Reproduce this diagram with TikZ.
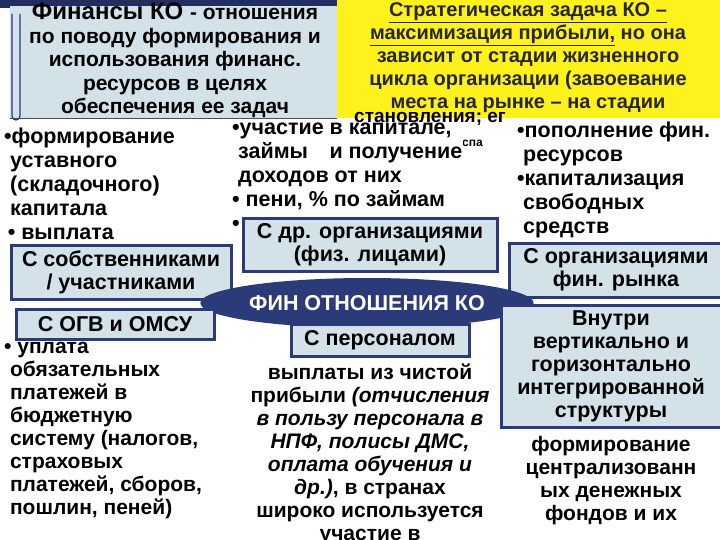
\documentclass[tikz,border=0pt]{standalone}
\usepackage{fontspec}
\usetikzlibrary{shapes.geometric}
\setmainfont{Liberation Sans}
\definecolor{bx}{HTML}{D3E2E9}
\definecolor{nv}{HTML}{2B3A78}
\definecolor{yl}{HTML}{FFF21C}
\begin{document}
\begin{tikzpicture}[x=1pt,y=-1pt,
  box/.style={draw=nv,line width=3pt,fill=bx,inner sep=0pt,align=center,font=\fontsize{21.5}{23}\selectfont\bfseries},
  txt/.style={inner sep=0pt,align=left,font=\fontsize{21.5}{24}\selectfont\bfseries,anchor=north west},
  ctxt/.style={inner sep=0pt,align=center,font=\fontsize{21.5}{24}\selectfont\bfseries,anchor=north}]
\useasboundingbox (0,0) rectangle (720,540);
\fill[white] (0,0) rectangle (720,540);
% top band
\fill[nv!80!black] (0,0) rectangle (337,8);
% scroll box
\node[draw=none,fill=bx,minimum width=327pt,minimum height=112pt,inner sep=0pt,anchor=north west] (def) at (10,6) {};
\draw[nv,line width=1.2pt] (12,14) -- (12,116) arc (180:360:4pt) -- (20,14);
\draw[gray!60!black,line width=1.2pt] (def.south west) -- (def.south east);
\node[ctxt,font=\fontsize{21}{23.5}\selectfont\bfseries] (deft) at (175,3) {\fontsize{24}{24}\selectfont Финансы КО \fontsize{21}{23.5}\selectfont- отношения\\ по поводу формирования и\\ использования финанс.\\ ресурсов в целях\\ обеспечения ее задач};
% yellow box
\fill[yl] (337,0) rectangle (720,118);
\node[txt,font=\fontsize{19}{20}\selectfont\bfseries] (hid) at (354,112) {становления; ег};
\node[txt,font=\fontsize{12}{12}\selectfont\bfseries] (hid2) at (462,140) {спа};
\node[ctxt,font=\fontsize{20}{23}\selectfont\bfseries,text=black!85] (strat) at (528,2) {\underline{Стратегическая задача КО –}\\ \underline{максимизация прибыли,} но она\\ зависит от стадии жизненного\\ цикла организации (завоевание\\ места на рынке – на стадии};
% left text
\node[txt] (lt) at (4,128) {•формирование\\ \ уставного\\ \ (складочного)\\ \ капитала\\ \,• выплата};
% middle text
\node[txt,fill=white,inner sep=1pt] (mt) at (231,122) {•участие в капитале,\\ \ займы\quad и получение\\ \ доходов от них\\ • пени, \% по займам\\ •};
% right text
\node[txt] (rt) at (517,122) {•пополнение фин.\\ \ ресурсов\\ •капитализация\\ \ свободных\\ \ средств};
% boxes
\node[box,minimum width=220pt,minimum height=54pt] (own) at (121,272) {С собственниками\\ / участниками};
\node[box,minimum width=254pt,minimum height=52pt] (org) at (370,245) {С др. организациями\\ (физ. лицами)};
\node[box,minimum width=214pt,minimum height=54pt] (fin) at (616,270) {С организациями\\ фин. рынка};
\node[fill=nv,ellipse,minimum width=280pt,minimum height=50pt,inner sep=0pt,text=white,font=\fontsize{21.5}{22}\selectfont\bfseries] (fo) at (367,303) {ФИН ОТНОШЕНИЯ КО};
\node[box,minimum width=198pt,minimum height=30pt] (ogv) at (115,324) {С ОГВ и ОМСУ};
\node[box,minimum width=178pt,minimum height=32pt] (pers) at (380,340) {С персоналом};
\node[box,minimum width=220pt,minimum height=122pt] (in) at (611,366) {Внутри\\ вертикально и\\ горизонтально\\ интегрированной\\ структуры};
% bottom texts
\node[txt,font=\fontsize{21}{23}\selectfont\bfseries] (ob) at (4,342) {• уплата\\ \ обязательных\\ \ платежей в\\ \ бюджетную\\ \ систему (налогов,\\ \ страховых\\ \ платежей, сборов,\\ \ пошлин, пеней)};
\node[ctxt,font=\fontsize{21}{23}\selectfont\bfseries] (pt) at (370,364) {выплаты из чистой\\ прибыли \textit{(отчисления}\\ \textit{в пользу персонала в}\\ \textit{НПФ, полисы ДМС,}\\ \textit{оплата обучения и}\\ \textit{др.)}, в странах\\ широко используется\\ участие в};
\node[ctxt,font=\fontsize{21}{23}\selectfont\bfseries] (it) at (611,436) {формирование\\ централизованн\\ ых денежных\\ фондов и их};
\end{tikzpicture}
\end{document}
